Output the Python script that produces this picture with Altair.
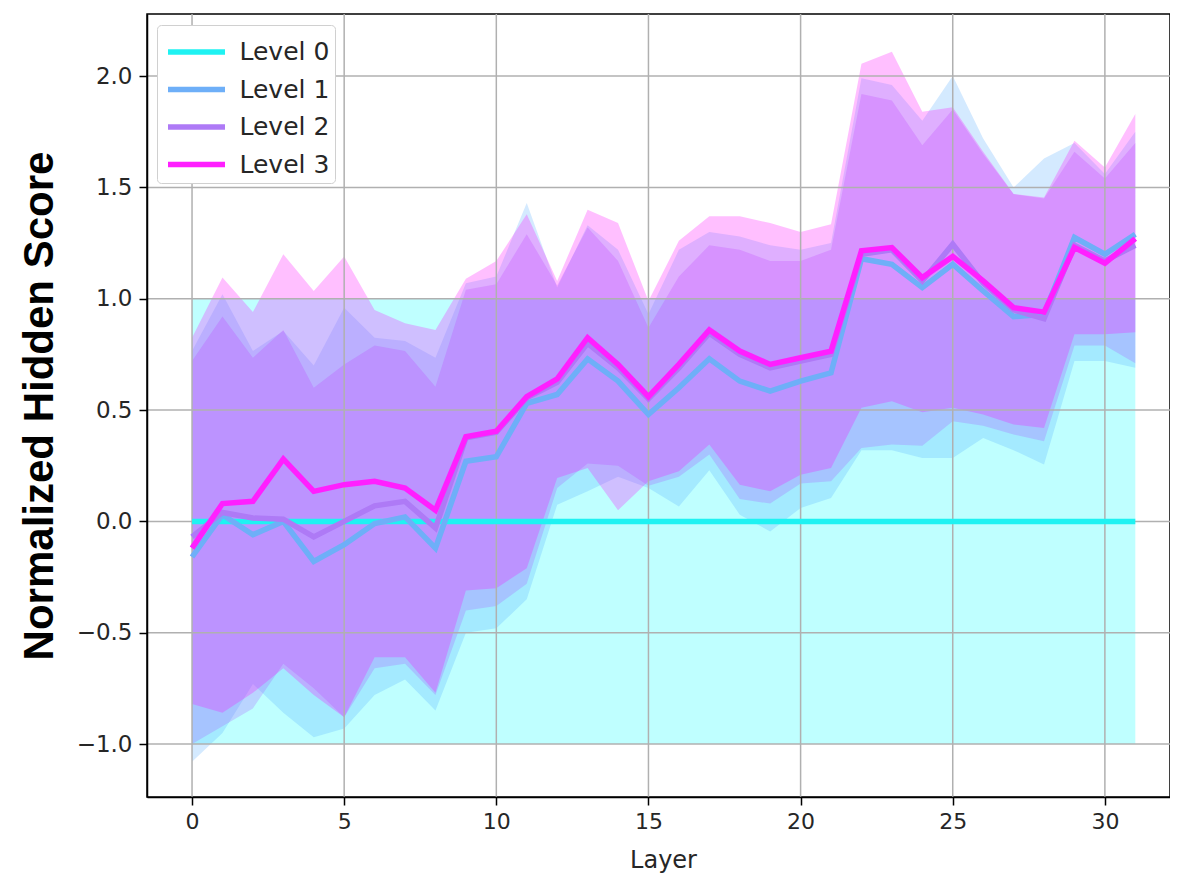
import altair as alt
import pandas as pd

layer_idx = list(range(32))
level_names = ["Level 0", "Level 1", "Level 2", "Level 3"]
line_colors = ["#1ff2f2", "#6eaff8", "#ae7af6", "#ff1fff"]
fill_colors = ["#00ffff", "#55aaff", "#aa55ff", "#ff00ff"]

# Level 0
l0_mean = [0.0, 0.0, 0.0, 0.0, 0.0, 0.0, 0.0, 0.0, 0.0, 0.0, 0.0, 0.0, 0.0, 0.0, 0.0, 0.0,
           0.0, 0.0, 0.0, 0.0, 0.0, 0.0, 0.0, 0.0, 0.0, 0.0, 0.0, 0.0, 0.0, 0.0, 0.0, 0.0]
l0_lo = [-1.0, -1.0, -1.0, -1.0, -1.0, -1.0, -1.0, -1.0, -1.0, -1.0, -1.0, -1.0, -1.0, -1.0, -1.0, -1.0,
         -1.0, -1.0, -1.0, -1.0, -1.0, -1.0, -1.0, -1.0, -1.0, -1.0, -1.0, -1.0, -1.0, -1.0, -1.0, -1.0]
l0_hi = [1.0, 1.0, 1.0, 1.0, 1.0, 1.0, 1.0, 1.0, 1.0, 1.0, 1.0, 1.0, 1.0, 1.0, 1.0, 1.0,
         1.0, 1.0, 1.0, 1.0, 1.0, 1.0, 1.0, 1.0, 1.0, 1.0, 1.0, 1.0, 1.0, 1.0, 1.0, 1.0]

# Level 1
l1_mean = [-0.16, 0.03, -0.06, 0.0, -0.18, -0.105, -0.01, 0.02, -0.12, 0.27, 0.29, 0.53, 0.57, 0.73, 0.63, 0.48,
           0.60, 0.73, 0.63, 0.585, 0.63, 0.667, 1.18, 1.155, 1.05, 1.155, 1.035, 0.92, 0.93, 1.275, 1.20, 1.29]
l1_lo = [-1.08, -0.95, -0.73, -0.86, -0.97, -0.93, -0.78, -0.71, -0.85, -0.50, -0.48, -0.35, 0.075, 0.135, 0.20, 0.15,
         0.067, 0.23, 0.03, -0.045, 0.06, 0.105, 0.32, 0.32, 0.285, 0.285, 0.375, 0.32, 0.255, 0.72, 0.72, 0.69]
l1_hi = [0.765, 1.02, 0.765, 0.855, 0.70, 0.96, 0.825, 0.81, 0.735, 1.07, 1.10, 1.43, 1.05, 1.33, 1.22, 0.93,
         1.22, 1.30, 1.28, 1.24, 1.22, 1.25, 1.99, 1.96, 1.80, 2.00, 1.72, 1.50, 1.63, 1.70, 1.56, 1.75]

# Level 2
l2_mean = [-0.07, 0.04, 0.015, 0.01, -0.07, 0.0, 0.07, 0.09, -0.03, 0.375, 0.40, 0.555, 0.625, 0.80, 0.69, 0.55,
           0.69, 0.845, 0.75, 0.69, 0.72, 0.75, 1.20, 1.22, 1.08, 1.245, 1.07, 0.95, 0.91, 1.24, 1.17, 1.24]
l2_lo = [-1.00, -0.92, -0.84, -0.64, -0.75, -0.88, -0.66, -0.64, -0.78, -0.40, -0.38, -0.28, 0.15, 0.26, 0.25, 0.16,
         0.20, 0.30, 0.10, 0.08, 0.17, 0.18, 0.33, 0.345, 0.34, 0.45, 0.43, 0.39, 0.36, 0.79, 0.79, 0.71]
l2_hi = [0.72, 0.92, 0.735, 0.86, 0.60, 0.705, 0.79, 0.765, 0.605, 1.04, 1.065, 1.29, 1.06, 1.32, 1.17, 0.87,
         1.10, 1.24, 1.22, 1.17, 1.17, 1.22, 1.92, 1.89, 1.69, 1.85, 1.65, 1.47, 1.45, 1.66, 1.54, 1.70]

# Level 3
l3_mean = [-0.12, 0.08, 0.09, 0.28, 0.135, 0.165, 0.18, 0.15, 0.05, 0.38, 0.405, 0.56, 0.64, 0.825, 0.705, 0.56,
           0.705, 0.86, 0.765, 0.705, 0.735, 0.765, 1.215, 1.23, 1.095, 1.19, 1.08, 0.96, 0.94, 1.23, 1.16, 1.27]
l3_lo = [-0.82, -0.86, -0.77, -0.66, -0.78, -0.88, -0.61, -0.61, -0.77, -0.31, -0.30, -0.21, 0.195, 0.24, 0.05, 0.18,
         0.225, 0.345, 0.165, 0.135, 0.21, 0.24, 0.51, 0.54, 0.49, 0.51, 0.48, 0.435, 0.42, 0.84, 0.84, 0.85]
l3_hi = [0.825, 1.095, 0.94, 1.20, 1.035, 1.19, 0.95, 0.89, 0.86, 1.09, 1.17, 1.38, 1.08, 1.40, 1.34, 0.99,
         1.26, 1.37, 1.37, 1.34, 1.30, 1.335, 2.055, 2.11, 1.84, 1.86, 1.66, 1.47, 1.455, 1.71, 1.59, 1.83]

x_ticks = [0, 5, 10, 15, 20, 25, 30]
y_ticks = [-1.0, -0.5, 0.0, 0.5, 1.0, 1.5, 2.0]

means = [l0_mean, l1_mean, l2_mean, l3_mean]
lows = [l0_lo, l1_lo, l2_lo, l3_lo]
highs = [l0_hi, l1_hi, l2_hi, l3_hi]

frames = []
for name, m, lo, hi in zip(level_names, means, lows, highs):
    frames.append(pd.DataFrame({"layer": layer_idx, "level": name, "mean": m, "lo": lo, "hi": hi}))
df = pd.concat(frames, ignore_index=True)
xgrid_df = pd.DataFrame({"layer": x_ticks})
ygrid_df = pd.DataFrame({"lo": y_ticks})

xsc = alt.Scale(domain=[-1.48, 32.14], nice=False, zero=False)
ysc = alt.Scale(domain=[-1.238, 2.279], nice=False, zero=False)
# fill scale takes its (sorted) domain from the data so that it is not merged with the stroke legend
fill_scale = alt.Scale(range=fill_colors)
stroke_scale = alt.Scale(domain=level_names, range=line_colors)

tick_font = "DejaVu Sans"
x_axis = alt.Axis(values=x_ticks, format="d", grid=False,
                  domainColor="black", domainWidth=1.5, tickColor="black", tickWidth=1.5, tickSize=8,
                  labelFont=tick_font, labelFontSize=22, labelColor="#262626", labelPadding=6,
                  title="Layer", titleFont=tick_font, titleFontSize=24, titleFontWeight="normal",
                  titleColor="#262626", titleX=516, titleY=70, titleAlign="center",
                  titleBaseline="alphabetic", zindex=1)
y_axis = alt.Axis(values=y_ticks, format=".1f", grid=False,
                  domainColor="black", domainWidth=1.5, tickColor="black", tickWidth=1.5, tickSize=8,
                  labelFont=tick_font, labelFontSize=23, labelColor="#262626", labelPadding=7,
                  title="Normalized Hidden Score", titleFont="Liberation Sans", titleFontSize=42,
                  titleFontWeight="bold", titleColor="black", titleAngle=270, titleX=-95, titleY=391.5,
                  titleAlign="center", titleBaseline="alphabetic", zindex=1)

legend = alt.Legend(title=None, orient="none", legendX=10, legendY=11,
                    padding=5, symbolOffset=12.5, labelOffset=21, rowPadding=2.5,
                    symbolType="M-1.5,0L1.5,0", symbolSize=1444, symbolStrokeWidth=5.5,
                    labelFont=tick_font, labelFontSize=25, labelColor="#262626",
                    strokeColor="#d0d0d0", fillColor="#ffffff", cornerRadius=4)

layers = []
for name in level_names:
    layers.append(
        alt.Chart(df).transform_filter(alt.datum.level == name).mark_area(fillOpacity=0.25).encode(
            x=alt.X("layer:Q", scale=xsc, axis=x_axis),
            y=alt.Y("lo:Q", scale=ysc, axis=y_axis),
            y2="hi:Q",
            fill=alt.Fill("level:N", scale=fill_scale, legend=None),
        )
    )

# grid lines (above fills, below lines, as in matplotlib)
layers.append(
    alt.Chart(xgrid_df).mark_rule(color="#b0b0b0", strokeWidth=1.5).encode(
        x=alt.X("layer:Q", scale=xsc, axis=x_axis)
    )
)
layers.append(
    alt.Chart(ygrid_df).mark_rule(color="#b0b0b0", strokeWidth=1.5).encode(
        y=alt.Y("lo:Q", scale=ysc, axis=y_axis)
    )
)

for name in level_names:
    layers.append(
        alt.Chart(df).transform_filter(alt.datum.level == name).mark_line(strokeWidth=5.5).encode(
            x=alt.X("layer:Q", scale=xsc, axis=x_axis),
            y=alt.Y("mean:Q", scale=ysc, axis=y_axis),
            stroke=alt.Stroke("level:N", scale=stroke_scale, legend=legend),
        )
    )

chart = alt.layer(*layers).properties(
    width=1023, height=783,
    background="white",
    autosize=alt.AutoSizeParams(type="none"),
    padding={"left": 139, "top": 6, "right": 0, "bottom": 80},
).configure_view(stroke="black", strokeWidth=1.5)

chart.save("out.html", embed_options={"renderer": "svg", "actions": False})
